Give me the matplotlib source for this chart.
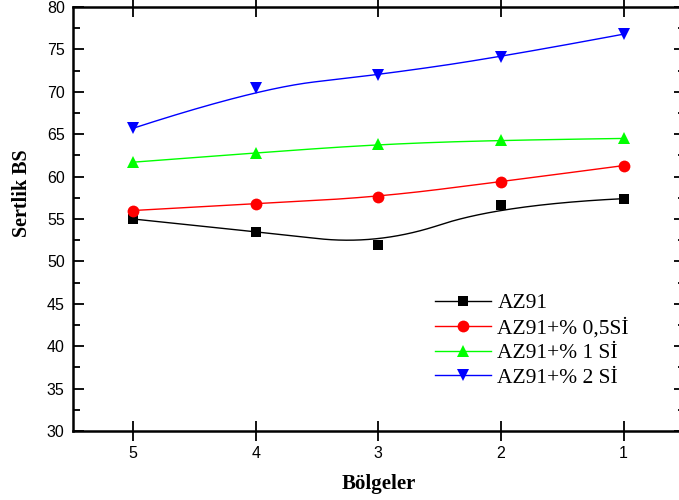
import numpy as np
import matplotlib
matplotlib.use("Agg")
import matplotlib.pyplot as plt
from matplotlib.ticker import MultipleLocator

# Regions (Bölgeler) and hardness values (Sertlik BS)
regions = [5, 4, 3, 2, 1]
az91 = [55.0, 53.5, 51.9, 56.7, 57.4]
az91_05si = [56.0, 56.8, 57.6, 59.4, 61.3]
az91_1si = [61.7, 62.8, 63.8, 64.3, 64.5]
az91_2si = [65.7, 70.4, 72.0, 74.1, 76.8]

series_labels = ["AZ91", "AZ91+% 0,5Sİ", "AZ91+% 1 Sİ", "AZ91+% 2 Sİ"]
yticks = [30, 35, 40, 45, 50, 55, 60, 65, 70, 75, 80]


def bspline(xs, ys, n=200, k=2):
    """Clamped B-spline curve using the data points as control points."""
    P = np.column_stack([xs, ys]).astype(float)
    m = len(P)
    inner = np.linspace(0, 1, m - k + 1)[1:-1]
    t = np.concatenate([np.zeros(k + 1), inner, np.ones(k + 1)])
    u = np.linspace(0, 1, n)
    out = []
    for uu in u:
        # Cox-de Boor basis
        N = np.zeros(len(t) - 1)
        for i in range(len(t) - 1):
            if t[i] <= uu < t[i + 1]:
                N[i] = 1.0
        if uu >= 1.0:
            N[m - 1] = 1.0
        for d in range(1, k + 1):
            Nn = np.zeros(len(t) - 1 - d)
            for i in range(len(Nn)):
                a = 0.0
                if t[i + d] != t[i]:
                    a = (uu - t[i]) / (t[i + d] - t[i]) * N[i]
                b = 0.0
                if t[i + d + 1] != t[i + 1]:
                    b = (t[i + d + 1] - uu) / (t[i + d + 1] - t[i + 1]) * N[i + 1]
                Nn[i] = a + b
            N = Nn
        out.append(N[:m] @ P)
    out = np.array(out)
    return out[:, 0], out[:, 1]


fig = plt.figure(figsize=(6.79, 5.0), dpi=100)
W, H = 679, 500
left, right, top, bottom = 73, 685, 7, 431
ax = fig.add_axes([left / W, 1 - bottom / H, (right - left) / W, (bottom - top) / H])

styles = [
    ("black", "s", 7.5),
    ("red", "o", 8.5),
    ("#00ff00", "^", 9),
    ("blue", "v", 9),
]
data = [az91, az91_05si, az91_1si, az91_2si]

for vals, (c, mk, ms), lab in zip(data, styles, series_labels):
    cx, cy = bspline(regions, vals)
    ax.plot(cx, cy, color=c, lw=1.0, zorder=2)
    ax.plot(regions, vals, linestyle="none", marker=mk, color=c, ms=ms,
            markeredgewidth=0, zorder=3)
    # legend proxy
    ax.plot([], [], color=c, lw=1.0, marker=mk, ms=ms, markeredgewidth=0, label=lab)

ax.set_xlim(5.49, 0.5)
ax.set_ylim(30, 80)
ax.set_xticks(regions)
ax.set_yticks(yticks)
ax.yaxis.set_minor_locator(MultipleLocator(2.5))

tick_font = {"family": "Liberation Sans", "size": 11.5}
ax.set_xticklabels([str(r) for r in regions], fontdict=tick_font)
ax.set_yticklabels([str(v) for v in yticks], fontdict=tick_font)

ax.tick_params(axis="y", which="major", direction="in", length=8, width=1.3,
               right=True, pad=6)
ax.tick_params(axis="y", which="minor", direction="in", length=5, width=1.3,
               right=True)
ax.tick_params(axis="x", which="major", direction="inout", length=14, width=1.3,
               top=True, pad=4)
for s in ax.spines.values():
    s.set_linewidth(1.8)

ax.set_xlabel("Bölgeler", fontfamily="Liberation Serif", fontweight="bold",
              fontsize=15, labelpad=9)
ax.set_ylabel("Sertlik BS", fontfamily="Liberation Serif", fontweight="bold",
              fontsize=14.5)
ax.yaxis.set_label_coords(-0.067, 0.56)

leg = ax.legend(loc="upper left", bbox_to_anchor=((435 - left) / (right - left),
                (bottom - 293) / (bottom - top)),
                frameon=False, prop={"family": "Liberation Serif", "size": 15.5},
                handlelength=2.6, handletextpad=0.3, labelspacing=0.22,
                borderaxespad=0, borderpad=0)

fig.savefig("out.png", dpi=100)
